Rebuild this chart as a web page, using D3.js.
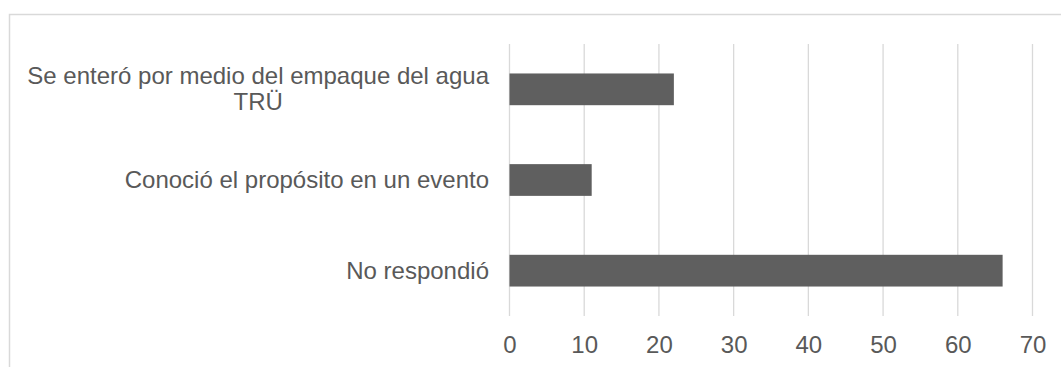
<!DOCTYPE html>
<html>
<head>
<meta charset="utf-8">
<script src="https://cdn.jsdelivr.net/npm/d3@7"></script>
<style>
  html, body { margin: 0; padding: 0; background: #ffffff; }
  svg { display: block; font-family: "Liberation Sans", Arial, sans-serif; }
</style>
</head>
<body>
<svg id="chart" width="1061" height="367"></svg>
<script>
const categories = [
  "Se enteró por medio del empaque del agua TRÜ",
  "Conoció el propósito en un evento",
  "No respondió"
];
const values = [22, 11, 66];
const tickValues = [0, 10, 20, 30, 40, 50, 60, 70];

const svg = d3.select("#chart");
const W = 1061, H = 367;
const plot = { left: 509.5, right: 1032.5, top: 44, bottom: 316 };
const textColor = "#595959";
const fontSize = 24;

// outer chart border (cropped at right and bottom)
svg.append("rect")
  .attr("x", 9.5).attr("y", 14.5)
  .attr("width", W + 20).attr("height", H + 20)
  .attr("fill", "none").attr("stroke", "#d9d9d9").attr("stroke-width", 1.5);

const x = d3.scaleLinear().domain([0, 70]).range([plot.left, plot.right]);
const y = d3.scaleBand().domain(categories).range([plot.top, plot.bottom]).paddingInner(0.65).paddingOuter(0.325);

// gridlines
svg.append("g").selectAll("line").data(tickValues).join("line")
  .attr("x1", d => x(d)).attr("x2", d => x(d))
  .attr("y1", plot.top).attr("y2", plot.bottom)
  .attr("stroke", "#d9d9d9").attr("stroke-width", 1.3);

// bars
svg.append("g").selectAll("rect").data(categories).join("rect")
  .attr("x", x(0))
  .attr("y", d => y(d))
  .attr("width", (d, i) => x(values[i]) - x(0))
  .attr("height", y.bandwidth())
  .attr("fill", "#5f5f5f");

// x axis tick labels
const xAxis = d3.axisBottom(x).tickValues(tickValues).tickSize(0).tickPadding(0);
const gx = svg.append("g").attr("transform", `translate(0,${plot.bottom})`).call(xAxis);
gx.select(".domain").remove();
gx.selectAll("text")
  .attr("y", 37).attr("dy", null)
  .attr("fill", textColor)
  .style("font-size", fontSize + "px")
  .style("font-family", '"Liberation Sans", Arial, sans-serif');

// category labels with wrapping
const labelRight = 489;
const maxWidth = 475;
const lineGap = 26;
const gl = svg.append("g");
categories.forEach(cat => {
  const words = cat.split(" ");
  const t = gl.append("text")
    .attr("fill", textColor)
    .style("font-size", fontSize + "px");
  const lines = [];
  let cur = [];
  const probe = t.append("tspan");
  words.forEach(w => {
    const test = cur.concat([w]).join(" ");
    probe.text(test);
    if (probe.node().getComputedTextLength() > maxWidth && cur.length) {
      lines.push(cur.join(" "));
      cur = [w];
    } else {
      cur.push(w);
    }
  });
  lines.push(cur.join(" "));
  // measure widths
  const widths = lines.map(l => { probe.text(l); return probe.node().getComputedTextLength(); });
  probe.remove();
  const cy = y(cat) + y.bandwidth() / 2;
  const base0 = cy + 8 - (lines.length - 1) * lineGap / 2;
  if (lines.length === 1) {
    t.attr("text-anchor", "end").attr("x", labelRight).attr("y", base0).text(lines[0]);
  } else {
    const maxW = d3.max(widths);
    const cx = labelRight - maxW / 2;
    t.attr("text-anchor", "middle");
    lines.forEach((l, i) => {
      t.append("tspan").attr("x", cx).attr("y", base0 + i * lineGap).text(l);
    });
  }
});
</script>
</body>
</html>
